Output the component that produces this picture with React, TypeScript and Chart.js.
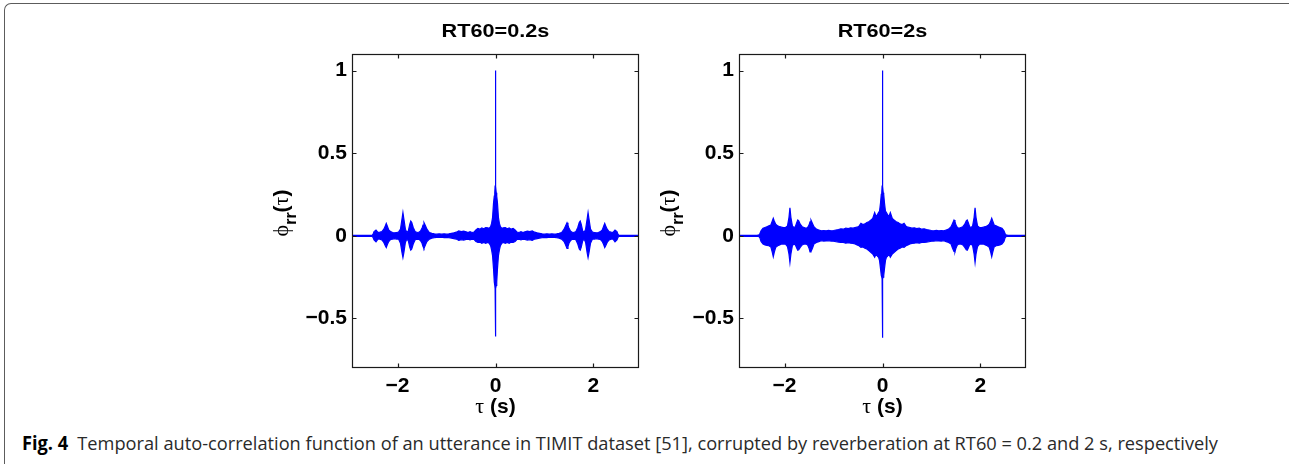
import React, { useEffect, useLayoutEffect, useRef } from "react";
import { Chart, registerables } from "chart.js";

Chart.register(...registerables);

// ---- data (lag τ in seconds, envelope of the autocorrelation) ----
const tau = [
  -2.93, -2.56, -2.52, -2.5, -2.48, -2.44, -2.4, -2.36, -2.32, -2.28, -2.25, -2.23, -2.21, -2.18, -2.14, -2.1,
  -2.06, -2.02, -1.98, -1.94, -1.91, -1.89, -1.87, -1.84, -1.81, -1.78, -1.75, -1.73, -1.71, -1.68, -1.64, -1.6,
  -1.56, -1.53, -1.5, -1.48, -1.46, -1.43, -1.4, -1.35, -1.3, -1.25, -1.2, -1.15, -1.1, -1.05, -1.0, -0.95, -0.9,
  -0.85, -0.8, -0.75, -0.7, -0.65, -0.6, -0.56, -0.52, -0.48, -0.44, -0.4, -0.36, -0.32, -0.28, -0.24, -0.2,
  -0.16, -0.13, -0.1, -0.08, -0.06, -0.04, -0.025, -0.015, -0.008, -0.004,
  0,
  0.004, 0.008, 0.015, 0.025, 0.04, 0.06, 0.08, 0.1, 0.13, 0.16, 0.2, 0.24, 0.28, 0.32, 0.36, 0.4, 0.44, 0.48,
  0.52, 0.56, 0.6, 0.65, 0.7, 0.75, 0.8, 0.85, 0.9, 0.95, 1.0, 1.05, 1.1, 1.15, 1.2, 1.25, 1.3, 1.35, 1.4, 1.43,
  1.46, 1.48, 1.5, 1.53, 1.56, 1.6, 1.64, 1.68, 1.71, 1.73, 1.75, 1.78, 1.81, 1.84, 1.87, 1.89, 1.91, 1.94, 1.98,
  2.02, 2.06, 2.1, 2.14, 2.18, 2.21, 2.23, 2.25, 2.28, 2.32, 2.36, 2.4, 2.44, 2.48, 2.5, 2.52, 2.56, 2.93,
];

// RT60 = 0.2 s
const upperShort = [
  0.003, 0.003, 0.003, 0.01, 0.025, 0.035, 0.02, 0.022, 0.025, 0.04, 0.06, 0.075, 0.06, 0.035, 0.025, 0.02, 0.018,
  0.02, 0.022, 0.04, 0.1, 0.14, 0.1, 0.04, 0.02, 0.03, 0.07, 0.089, 0.08, 0.05, 0.025, 0.02, 0.022, 0.03, 0.045,
  0.065, 0.079, 0.06, 0.04, 0.02, 0.015, 0.012, 0.01, 0.012, 0.01, 0.012, 0.01, 0.012, 0.015, 0.018, 0.022, 0.03,
  0.025, 0.028, 0.024, 0.02, 0.025, 0.02, 0.022, 0.035, 0.044, 0.04, 0.047, 0.042, 0.05, 0.048, 0.045, 0.055, 0.075,
  0.11, 0.2, 0.24, 0.26, 0.3, 0.45,
  1.0,
  0.45, 0.3, 0.26, 0.24, 0.2, 0.11, 0.075, 0.055, 0.045, 0.048, 0.05, 0.042, 0.047, 0.04, 0.044, 0.035, 0.022, 0.02,
  0.025, 0.02, 0.024, 0.028, 0.025, 0.03, 0.022, 0.018, 0.015, 0.012, 0.01, 0.012, 0.01, 0.012, 0.01, 0.012, 0.015,
  0.02, 0.04, 0.06, 0.079, 0.065, 0.045, 0.03, 0.022, 0.02, 0.025, 0.05, 0.08, 0.089, 0.07, 0.03, 0.02, 0.04, 0.1,
  0.14, 0.1, 0.04, 0.022, 0.02, 0.018, 0.02, 0.025, 0.035, 0.06, 0.075, 0.06, 0.04, 0.025, 0.022, 0.02, 0.035,
  0.025, 0.01, 0.003, 0.003, 0.003,
];
const lowerShort = [
  -0.003, -0.003, -0.003, -0.01, -0.025, -0.036, -0.02, -0.02, -0.025, -0.04, -0.06, -0.071, -0.055, -0.035, -0.022,
  -0.02, -0.017, -0.02, -0.02, -0.045, -0.1, -0.131, -0.1, -0.04, -0.02, -0.03, -0.07, -0.087, -0.08, -0.05, -0.024,
  -0.02, -0.022, -0.03, -0.045, -0.065, -0.077, -0.055, -0.035, -0.02, -0.014, -0.012, -0.01, -0.01, -0.009, -0.011,
  -0.01, -0.012, -0.014, -0.017, -0.02, -0.028, -0.024, -0.026, -0.022, -0.02, -0.024, -0.02, -0.022, -0.035, -0.04,
  -0.038, -0.045, -0.04, -0.045, -0.04, -0.045, -0.06, -0.085, -0.12, -0.2, -0.28, -0.3, -0.32, -0.37,
  -0.61,
  -0.37, -0.32, -0.3, -0.28, -0.2, -0.12, -0.085, -0.06, -0.045, -0.04, -0.045, -0.04, -0.045, -0.038, -0.04, -0.035,
  -0.022, -0.02, -0.024, -0.02, -0.022, -0.026, -0.024, -0.028, -0.02, -0.017, -0.014, -0.012, -0.01, -0.011, -0.009,
  -0.01, -0.01, -0.012, -0.014, -0.02, -0.035, -0.055, -0.077, -0.065, -0.045, -0.03, -0.022, -0.02, -0.024, -0.05,
  -0.08, -0.087, -0.07, -0.03, -0.02, -0.04, -0.1, -0.131, -0.1, -0.045, -0.02, -0.02, -0.017, -0.02, -0.022, -0.035,
  -0.055, -0.071, -0.06, -0.04, -0.025, -0.02, -0.02, -0.036, -0.025, -0.01, -0.003, -0.003, -0.003,
];

// RT60 = 2 s
const upperLong = [
  0.003, 0.003, 0.006, 0.015, 0.03, 0.045, 0.05, 0.055, 0.06, 0.065, 0.09, 0.106, 0.09, 0.07, 0.06, 0.055, 0.052,
  0.05, 0.05, 0.06, 0.11, 0.17, 0.11, 0.06, 0.05, 0.055, 0.08, 0.095, 0.09, 0.07, 0.055, 0.05, 0.045, 0.05, 0.065,
  0.085, 0.095, 0.075, 0.055, 0.04, 0.035, 0.03, 0.032, 0.03, 0.033, 0.03, 0.032, 0.035, 0.038, 0.042, 0.04, 0.047,
  0.043, 0.048, 0.046, 0.05, 0.052, 0.058, 0.075, 0.068, 0.072, 0.08, 0.085, 0.095, 0.105, 0.14, 0.115, 0.13, 0.14,
  0.15, 0.2, 0.25, 0.26, 0.3, 0.34,
  1.0,
  0.34, 0.3, 0.26, 0.25, 0.2, 0.15, 0.14, 0.13, 0.115, 0.14, 0.105, 0.095, 0.085, 0.08, 0.072, 0.068, 0.075, 0.058,
  0.052, 0.05, 0.046, 0.048, 0.043, 0.047, 0.04, 0.042, 0.038, 0.035, 0.032, 0.03, 0.033, 0.03, 0.032, 0.03, 0.035,
  0.04, 0.055, 0.075, 0.095, 0.085, 0.065, 0.05, 0.045, 0.05, 0.055, 0.07, 0.09, 0.095, 0.08, 0.055, 0.05, 0.06,
  0.11, 0.17, 0.11, 0.06, 0.05, 0.05, 0.052, 0.055, 0.06, 0.07, 0.09, 0.106, 0.09, 0.065, 0.06, 0.055, 0.05, 0.045,
  0.03, 0.015, 0.006, 0.003, 0.003,
];
const lowerLong = [
  -0.003, -0.003, -0.006, -0.015, -0.035, -0.05, -0.055, -0.058, -0.06, -0.067, -0.1, -0.127, -0.1, -0.07, -0.06,
  -0.055, -0.05, -0.05, -0.05, -0.065, -0.11, -0.162, -0.11, -0.06, -0.05, -0.055, -0.075, -0.087, -0.085, -0.07,
  -0.055, -0.05, -0.05, -0.055, -0.075, -0.097, -0.095, -0.075, -0.05, -0.04, -0.035, -0.03, -0.032, -0.031, -0.03,
  -0.032, -0.033, -0.036, -0.038, -0.04, -0.04, -0.045, -0.042, -0.045, -0.046, -0.05, -0.055, -0.06, -0.07, -0.068,
  -0.075, -0.08, -0.09, -0.1, -0.11, -0.13, -0.11, -0.125, -0.13, -0.15, -0.2, -0.24, -0.25, -0.26, -0.3,
  -0.617,
  -0.3, -0.26, -0.25, -0.24, -0.2, -0.15, -0.13, -0.125, -0.11, -0.13, -0.11, -0.1, -0.09, -0.08, -0.075, -0.068,
  -0.07, -0.06, -0.055, -0.05, -0.046, -0.045, -0.042, -0.045, -0.04, -0.04, -0.038, -0.036, -0.033, -0.032, -0.03,
  -0.031, -0.032, -0.03, -0.035, -0.04, -0.05, -0.075, -0.095, -0.097, -0.075, -0.055, -0.05, -0.05, -0.055, -0.07,
  -0.085, -0.087, -0.075, -0.055, -0.05, -0.06, -0.11, -0.162, -0.11, -0.065, -0.05, -0.05, -0.05, -0.055, -0.06,
  -0.07, -0.1, -0.127, -0.1, -0.067, -0.06, -0.058, -0.055, -0.05, -0.035, -0.015, -0.006, -0.003, -0.003,
];

const xTickValues = [-2, 0, 2];
const yTickValues = [-0.5, 0, 0.5, 1];
const xLimits = [-2.93, 2.93];
const yLimits = [-0.8, 1.1];
const panelTitles = ["RT60=0.2s", "RT60=2s"];
const captionLabel = "Fig. 4";
const captionText =
  "Temporal auto-correlation function of an utterance in TIMIT dataset [51], corrupted by reverberation at RT60 = 0.2 and 2 s, respectively";

// ---- styling ----
const BLUE = "#0000ff";
const SANS = '"Liberation Sans", Arial, Helvetica, sans-serif';
const SERIF = '"Liberation Serif", "DejaVu Serif", serif';
const CANVAS_W = 410;
const CANVAS_H = 430;
const Y_AXIS_W = 102;

const fmt = (v: number) => (v < 0 ? "\u2212" + Math.abs(v) : String(v));

function framePlugin(title: string) {
  return {
    id: "frame",
    afterDatasetsDraw(chart: any) {
      const { ctx, chartArea: a, scales } = chart;
      ctx.save();
      const L = Math.round(a.left) + 0.5;
      const R = Math.round(a.right) - 0.5;
      const T = Math.round(a.top) + 0.5;
      const B = Math.round(a.bottom) - 0.5;
      ctx.strokeStyle = "#1a1a1a";
      ctx.lineWidth = 1.2;
      ctx.strokeRect(L, T, R - L, B - T);
      ctx.beginPath();
      for (const v of xTickValues) {
        const px = Math.round(scales.x.getPixelForValue(v)) + 0.5;
        ctx.moveTo(px, B);
        ctx.lineTo(px, B - 4);
        ctx.moveTo(px, T);
        ctx.lineTo(px, T + 4);
      }
      for (const v of yTickValues) {
        const py = Math.round(scales.y.getPixelForValue(v)) + 0.5;
        ctx.moveTo(L, py);
        ctx.lineTo(L + 4, py);
        ctx.moveTo(R, py);
        ctx.lineTo(R - 4, py);
      }
      ctx.stroke();

      const cx = (a.left + a.right) / 2;
      const cy = (a.top + a.bottom) / 2 + 2;
      ctx.fillStyle = "#000";

      // title
      ctx.save();
      ctx.font = `bold 19px ${SANS}`;
      ctx.textAlign = "center";
      ctx.textBaseline = "alphabetic";
      ctx.translate(cx, 37);
      ctx.scale(1.14, 1);
      ctx.fillText(title, 0, 0);
      ctx.restore();

      // x axis title: τ (s)
      ctx.textAlign = "left";
      ctx.textBaseline = "alphabetic";
      ctx.font = `22px ${SERIF}`;
      const wTau = ctx.measureText("\u03c4").width;
      ctx.font = `bold 21px ${SANS}`;
      const wS = ctx.measureText(" (s)").width;
      const x0 = cx - (wTau + wS) / 2;
      const yb = a.bottom + 45;
      ctx.font = `22px ${SERIF}`;
      ctx.fillText("\u03c4", x0, yb);
      ctx.font = `bold 21px ${SANS}`;
      ctx.fillText(" (s)", x0 + wTau, yb);

      // y axis title: ϕrr(τ)
      ctx.save();
      ctx.translate(a.left - 64, cy);
      ctx.rotate(-Math.PI / 2);
      const parts = [
        { t: "\u03d5", f: `22px ${SERIF}`, dy: 0 },
        { t: "rr", f: `bold 16px ${SANS}`, dy: 8 },
        { t: "(", f: `bold 21px ${SANS}`, dy: 0 },
        { t: "\u03c4", f: `22px ${SERIF}`, dy: 0 },
        { t: ")", f: `bold 21px ${SANS}`, dy: 0 },
      ];
      let total = 0;
      const widths = parts.map((p) => {
        ctx.font = p.f;
        const w = ctx.measureText(p.t).width;
        total += w;
        return w;
      });
      let px = -total / 2;
      parts.forEach((p, i) => {
        ctx.font = p.f;
        ctx.fillText(p.t, px, p.dy);
        px += widths[i];
      });
      ctx.restore();

      ctx.restore();
    },
  };
}

function buildChart(canvas: HTMLCanvasElement, upper: number[], lower: number[], title: string) {
  const tickFont = { family: SANS, size: 21, weight: "bold" as const };
  return new Chart(canvas, {
    type: "line",
    data: {
      datasets: [
        {
          data: tau.map((t, i) => ({ x: t, y: upper[i] })),
          borderColor: BLUE,
          backgroundColor: BLUE,
          borderWidth: 1.2,
          pointRadius: 0,
          tension: 0,
          fill: "+1",
        },
        {
          data: tau.map((t, i) => ({ x: t, y: lower[i] })),
          borderColor: BLUE,
          backgroundColor: BLUE,
          borderWidth: 1.2,
          pointRadius: 0,
          tension: 0,
          fill: false,
        },
      ],
    },
    options: {
      animation: false,
      responsive: false,
      events: [],
      layout: { padding: { top: 54, right: 21, left: 0, bottom: 0 } },
      plugins: { legend: { display: false }, tooltip: { enabled: false }, title: { display: false } },
      scales: {
        x: {
          type: "linear",
          min: xLimits[0],
          max: xLimits[1],
          grid: { display: false, drawTicks: false },
          border: { display: false },
          afterBuildTicks: (s: any) => {
            s.ticks = xTickValues.map((v) => ({ value: v }));
          },
          afterFit: (s: any) => {
            s.height = 62;
          },
          ticks: {
            font: tickFont,
            color: "#000",
            padding: 6,
            maxRotation: 0,
            autoSkip: false,
            callback: (v: any) => fmt(Number(v)),
          },
        },
        y: {
          type: "linear",
          min: yLimits[0],
          max: yLimits[1],
          grid: { display: false, drawTicks: false },
          border: { display: false },
          afterBuildTicks: (s: any) => {
            s.ticks = yTickValues.map((v) => ({ value: v }));
          },
          afterFit: (s: any) => {
            s.width = Y_AXIS_W;
          },
          ticks: {
            font: tickFont,
            color: "#000",
            padding: 5,
            autoSkip: false,
            callback: (v: any) => fmt(Number(v)),
          },
        },
      },
    },
    plugins: [framePlugin(title)],
  } as any);
}

function Panel({ left, upper, lower, title }: { left: number; upper: number[]; lower: number[]; title: string }) {
  const ref = useRef<HTMLCanvasElement | null>(null);
  useEffect(() => {
    if (!ref.current) return;
    const chart = buildChart(ref.current, upper, lower, title);
    return () => chart.destroy();
  }, [upper, lower, title]);
  return (
    <canvas
      ref={ref}
      width={CANVAS_W}
      height={CANVAS_H}
      style={{ position: "absolute", left, top: 0, width: CANVAS_W, height: CANVAS_H }}
    />
  );
}

function Caption() {
  const ref = useRef<HTMLSpanElement | null>(null);
  useLayoutEffect(() => {
    const el = ref.current;
    if (!el) return;
    el.style.transform = "none";
    const w = el.getBoundingClientRect().width;
    const target = 1196;
    if (w > 0) el.style.transform = `scaleX(${target / w})`;
  }, []);
  return (
    <div
      style={{
        position: "absolute",
        left: 22,
        top: 433,
        width: 1260,
        overflow: "hidden",
        whiteSpace: "nowrap",
        lineHeight: "20px",
        height: 26,
      }}
    >
      <span
        ref={ref}
        style={{
          display: "inline-block",
          transformOrigin: "left top",
          fontFamily: '"Open Sans", "Noto Sans", sans-serif',
          fontSize: 19,
          color: "#2a2a2a",
        }}
      >
        <b style={{ color: "#000" }}>{captionLabel}</b>
        {"\u2002"}
        {captionText}
      </span>
    </div>
  );
}

export default function App() {
  useEffect(() => {
    document.body.style.overflow = "hidden";
  }, []);
  return (
    <div style={{ position: "absolute", left: 0, top: 0, width: 1289, height: 468, background: "#fff", overflow: "hidden" }}>
      <div
        style={{
          position: "absolute",
          left: 4,
          top: 3,
          width: 1290,
          height: 461,
          borderTop: "1.6px solid #5c5c5c",
          borderLeft: "1.6px solid #5c5c5c",
          borderTopLeftRadius: 7,
          boxSizing: "border-box",
        }}
      />
      <Panel left={250} upper={upperShort} lower={lowerShort} title={panelTitles[0]} />
      <Panel left={637} upper={upperLong} lower={lowerLong} title={panelTitles[1]} />
      <Caption />
    </div>
  );
}
